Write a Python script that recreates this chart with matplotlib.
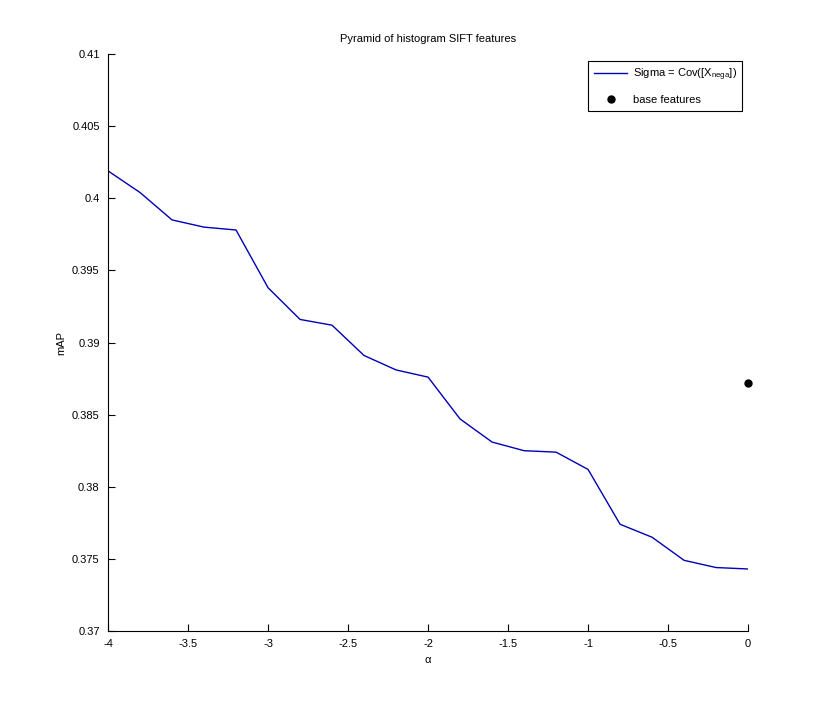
import matplotlib.pyplot as plt
import numpy as np

# mAP vs alpha for pyramid histogram SIFT features
alpha = [-4.0, -3.8, -3.6, -3.4, -3.2, -3.0, -2.8, -2.6, -2.4, -2.2, -2.0,
         -1.8, -1.6, -1.4, -1.2, -1.0, -0.8, -0.6, -0.4, -0.2, 0.0]
map_sigma = [0.4019, 0.4004, 0.3985, 0.3980, 0.3978, 0.3938, 0.3916, 0.3912,
             0.3891, 0.3881, 0.3876, 0.3847, 0.3831, 0.3825, 0.3824, 0.3812,
             0.3774, 0.3765, 0.3749, 0.3744, 0.3743]
base_alpha = [0.0]
base_map = [0.3872]

yticks = [0.37, 0.375, 0.38, 0.385, 0.39, 0.395, 0.4, 0.405, 0.41]
yticklabels = ['0.37', '0.375', '0.38', '0.385', '0.39', '0.395', '0.4', '0.405', '0.41']
xticks = [-4, -3.5, -3, -2.5, -2, -1.5, -1, -0.5, 0]
xticklabels = ['-4', '-3.5', '-3', '-2.5', '-2', '-1.5', '-1', '-0.5', '0']

plt.rcParams['font.family'] = ['Liberation Sans', 'DejaVu Sans']
plt.rcParams['font.size'] = 8

fig = plt.figure(figsize=(8.27, 7.09), dpi=100)
ax = fig.add_axes([0.1306, 0.110, 0.774, 0.8138])

ax.plot(alpha, map_sigma, color='#0000b4', linewidth=1,
        label='Sigma = Cov([X$_{\\mathregular{nega}}$])')
ax.plot(base_alpha, base_map, 'o', color='black', markersize=5,
        label='base features', clip_on=False)

ax.set_xlim(-4, 0)
ax.set_ylim(0.37, 0.41)
ax.set_xticks(xticks)
ax.set_xticklabels(xticklabels)
ax.set_yticks(yticks)
ax.set_yticklabels(yticklabels)
ax.tick_params(direction='in', length=5, width=0.8, pad=6)
ax.spines['top'].set_visible(False)
ax.spines['right'].set_visible(False)

ax.set_title('Pyramid of histogram SIFT features', fontsize=8, pad=9)
ax.set_xlabel('α', labelpad=4)
ax.set_ylabel('mAP', labelpad=4)

leg = ax.legend(loc='upper right', bbox_to_anchor=(0.991, 0.988),
                borderaxespad=0, fancybox=False, edgecolor='black',
                framealpha=1, handlelength=3, handletextpad=0.5,
                labelspacing=1.1, borderpad=0.5, fontsize=8)
leg.get_frame().set_linewidth(0.8)

plt.savefig('out.png', dpi=100)
